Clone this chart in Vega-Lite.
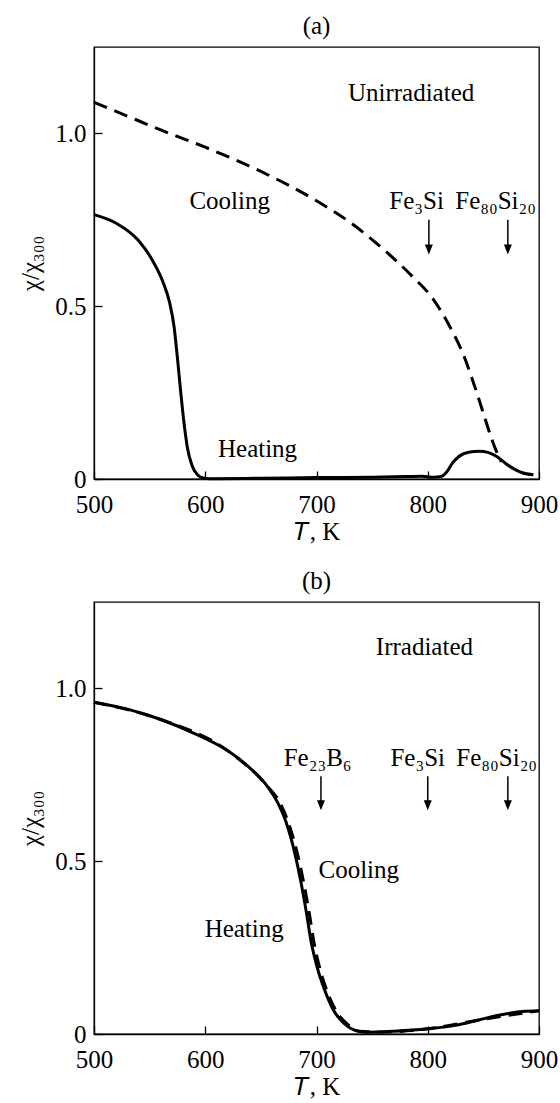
{
  "$schema": "https://vega.github.io/schema/vega-lite/v6.json",
  "background": "white",
  "padding": {"left": 18, "top": 13, "right": 3, "bottom": 1},
  "config": {
    "font": "Liberation Serif",
    "view": {"stroke": "black", "strokeWidth": 1.3},
    "axis": {"grid": false, "labelFlush": false, "labelOverlap": false, "domainColor": "black", "domainWidth": 1.3, "tickColor": "black", "tickWidth": 1.3, "tickSize": -8, "labelFontSize": 25, "labelColor": "black", "titleFontSize": 25, "titleFontWeight": "normal", "titleColor": "black", "labelFont": "Liberation Serif", "titleFont": "Liberation Serif"},
    "title": {"fontSize": 25, "fontWeight": "normal", "font": "Liberation Serif", "color": "black", "offset": 8},
    "text": {"font": "Liberation Serif"},
    "concat": {"spacing": 23}
  },
  "vconcat": [
    {
      "title": "(a)",
      "width": 445,
      "height": 432,
      "encoding": {
        "x": {"field": "T", "type": "quantitative", "scale": {"domain": [500, 900], "nice": false, "zero": false}, "axis": {"values": [500, 600, 700, 800, 900], "title": "𝑇, K", "labelFlush": false, "labelFont": "Liberation Serif", "titleFont": "Liberation Serif", "labelFontSize": 25, "titleFontSize": 25, "labelPadding": 21, "titlePadding": 2}},
        "y": {"field": "chi", "type": "quantitative", "scale": {"domain": [0, 1.25], "nice": false}, "axis": {"values": [0, 0.5, 1], "labelFlush": false, "labelExpr": "datum.value == 0 ? '0' : format(datum.value, '.1f')", "title": "χ/χ₃₀₀", "labelFont": "Liberation Serif", "titleFont": "Liberation Serif", "labelFontSize": 25, "titleFontSize": 25, "labelPadding": 16, "titlePadding": 11}}
      },
      "layer": [
        {
          "data": {"values": [
            {"T": 500, "chi": 0.765}, {"T": 520, "chi": 0.74}, {"T": 540, "chi": 0.69}, {"T": 553, "chi": 0.63}, {"T": 562, "chi": 0.57}, {"T": 568, "chi": 0.51}, {"T": 572, "chi": 0.44}, {"T": 575, "chi": 0.35}, {"T": 578, "chi": 0.25}, {"T": 581, "chi": 0.16}, {"T": 584, "chi": 0.09}, {"T": 588, "chi": 0.04}, {"T": 593, "chi": 0.012}, {"T": 598, "chi": 0.003}, {"T": 604, "chi": 0.001}, {"T": 650, "chi": 0.002}, {"T": 700, "chi": 0.004}, {"T": 750, "chi": 0.005}, {"T": 780, "chi": 0.007}, {"T": 795, "chi": 0.008}, {"T": 805, "chi": 0.005}, {"T": 812, "chi": 0.007}, {"T": 817, "chi": 0.02}, {"T": 822, "chi": 0.045}, {"T": 828, "chi": 0.065}, {"T": 838, "chi": 0.078}, {"T": 846, "chi": 0.08}, {"T": 854, "chi": 0.077}, {"T": 862, "chi": 0.065}, {"T": 870, "chi": 0.045}, {"T": 877, "chi": 0.03}, {"T": 885, "chi": 0.018}, {"T": 895, "chi": 0.012}
          ]},
          "mark": {"type": "line", "color": "black", "strokeWidth": 3, "interpolate": "monotone"}
        },
        {
          "data": {"values": [
            {"T": 500, "chi": 1.09}, {"T": 530, "chi": 1.05}, {"T": 560, "chi": 1.01}, {"T": 600, "chi": 0.96}, {"T": 650, "chi": 0.89}, {"T": 700, "chi": 0.805}, {"T": 730, "chi": 0.743}, {"T": 760, "chi": 0.665}, {"T": 785, "chi": 0.59}, {"T": 805, "chi": 0.52}, {"T": 820, "chi": 0.44}, {"T": 832, "chi": 0.36}, {"T": 842, "chi": 0.27}, {"T": 850, "chi": 0.19}, {"T": 857, "chi": 0.12}, {"T": 863, "chi": 0.07}, {"T": 866, "chi": 0.05}
          ]},
          "mark": {"type": "line", "color": "black", "strokeWidth": 3, "strokeDash": [14, 8], "interpolate": "monotone"}
        },
        {
          "data": {"values": [{"T": 801, "chi": 0.75, "chi2": 0.675}, {"T": 872, "chi": 0.75, "chi2": 0.675}]},
          "mark": {"type": "rule", "color": "black", "strokeWidth": 1.5},
          "encoding": {"y2": {"field": "chi2"}}
        },
        {
          "data": {"values": [{"T": 801, "chi": 0.664}, {"T": 872, "chi": 0.664}]},
          "mark": {"type": "point", "shape": "M-0.8,-1L0.8,-1L0,1Z", "filled": true, "color": "black", "size": 100, "opacity": 1}
        },
        {
          "data": {"values": [
            {"T": 785, "chi": 1.095, "label": "Unirradiated"},
            {"T": 622, "chi": 0.78, "label": "Cooling"},
            {"T": 647, "chi": 0.065, "label": "Heating"},
            {"T": 790, "chi": 0.78, "label": "Fe₃Si"},
            {"T": 861, "chi": 0.78, "label": "Fe₈₀Si₂₀"}
          ]},
          "mark": {"type": "text", "font": "Liberation Serif", "fontSize": 25, "color": "black", "align": "center", "baseline": "alphabetic"},
          "encoding": {"text": {"field": "label"}}
        }
      ]
    },
    {
      "title": "(b)",
      "width": 445,
      "height": 432,
      "encoding": {
        "x": {"field": "T", "type": "quantitative", "scale": {"domain": [500, 900], "nice": false, "zero": false}, "axis": {"values": [500, 600, 700, 800, 900], "title": "𝑇, K", "labelFlush": false, "labelFont": "Liberation Serif", "titleFont": "Liberation Serif", "labelFontSize": 25, "titleFontSize": 25, "labelPadding": 21, "titlePadding": 2}},
        "y": {"field": "chi", "type": "quantitative", "scale": {"domain": [0, 1.25], "nice": false}, "axis": {"values": [0, 0.5, 1], "labelFlush": false, "labelExpr": "datum.value == 0 ? '0' : format(datum.value, '.1f')", "title": "χ/χ₃₀₀", "labelFont": "Liberation Serif", "titleFont": "Liberation Serif", "labelFontSize": 25, "titleFontSize": 25, "labelPadding": 16, "titlePadding": 11}}
      },
      "layer": [
        {
          "data": {"values": [
            {"T": 500, "chi": 0.96}, {"T": 560, "chi": 0.91}, {"T": 620, "chi": 0.82}, {"T": 655, "chi": 0.72}, {"T": 667, "chi": 0.67}, {"T": 676, "chi": 0.6}, {"T": 683, "chi": 0.52}, {"T": 689, "chi": 0.43}, {"T": 694, "chi": 0.34}, {"T": 698, "chi": 0.26}, {"T": 703, "chi": 0.19}, {"T": 710, "chi": 0.12}, {"T": 718, "chi": 0.065}, {"T": 728, "chi": 0.028}, {"T": 738, "chi": 0.008}, {"T": 760, "chi": 0.006}, {"T": 800, "chi": 0.015}, {"T": 845, "chi": 0.04}, {"T": 900, "chi": 0.067}
          ]},
          "mark": {"type": "line", "color": "black", "strokeWidth": 3, "strokeDash": [14, 8], "interpolate": "monotone"}
        },
        {
          "data": {"values": [
            {"T": 500, "chi": 0.96}, {"T": 530, "chi": 0.94}, {"T": 560, "chi": 0.91}, {"T": 590, "chi": 0.87}, {"T": 620, "chi": 0.82}, {"T": 640, "chi": 0.77}, {"T": 655, "chi": 0.72}, {"T": 665, "chi": 0.67}, {"T": 673, "chi": 0.61}, {"T": 680, "chi": 0.53}, {"T": 686, "chi": 0.44}, {"T": 691, "chi": 0.35}, {"T": 695, "chi": 0.27}, {"T": 700, "chi": 0.2}, {"T": 707, "chi": 0.13}, {"T": 715, "chi": 0.07}, {"T": 725, "chi": 0.03}, {"T": 735, "chi": 0.01}, {"T": 745, "chi": 0.005}, {"T": 770, "chi": 0.008}, {"T": 800, "chi": 0.015}, {"T": 825, "chi": 0.025}, {"T": 845, "chi": 0.04}, {"T": 865, "chi": 0.055}, {"T": 885, "chi": 0.065}, {"T": 900, "chi": 0.067}
          ]},
          "mark": {"type": "line", "color": "black", "strokeWidth": 3, "interpolate": "monotone"}
        },
        {
          "data": {"values": [{"T": 704, "chi": 0.746, "chi2": 0.672}, {"T": 800, "chi": 0.746, "chi2": 0.672}, {"T": 872, "chi": 0.746, "chi2": 0.672}]},
          "mark": {"type": "rule", "color": "black", "strokeWidth": 1.5},
          "encoding": {"y2": {"field": "chi2"}}
        },
        {
          "data": {"values": [{"T": 704, "chi": 0.662}, {"T": 800, "chi": 0.662}, {"T": 872, "chi": 0.662}]},
          "mark": {"type": "point", "shape": "M-0.8,-1L0.8,-1L0,1Z", "filled": true, "color": "black", "size": 100, "opacity": 1}
        },
        {
          "data": {"values": [
            {"T": 797, "chi": 1.098, "label": "Irradiated"},
            {"T": 701, "chi": 0.775, "label": "Fe₂₃B₆"},
            {"T": 791, "chi": 0.775, "label": "Fe₃Si"},
            {"T": 862, "chi": 0.775, "label": "Fe₈₀Si₂₀"},
            {"T": 738, "chi": 0.45, "label": "Cooling"},
            {"T": 635, "chi": 0.28, "label": "Heating"}
          ]},
          "mark": {"type": "text", "font": "Liberation Serif", "fontSize": 25, "color": "black", "align": "center", "baseline": "alphabetic"},
          "encoding": {"text": {"field": "label"}}
        }
      ]
    }
  ]
}
